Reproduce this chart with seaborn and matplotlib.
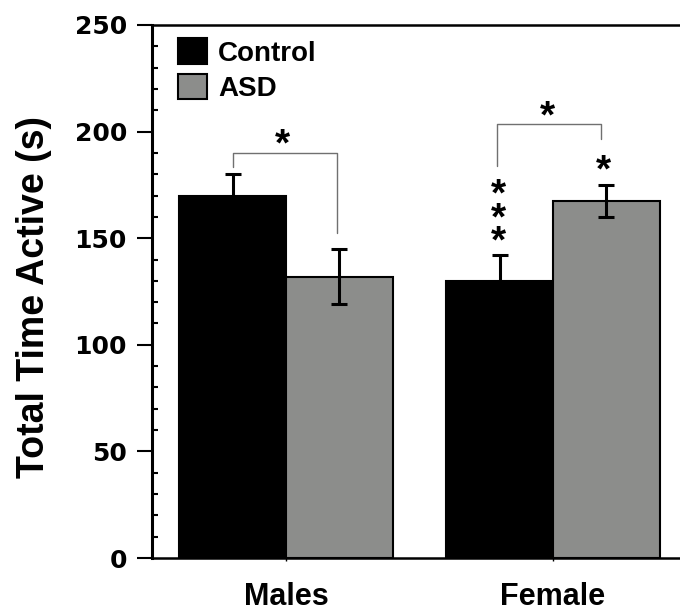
import pandas as pd
import seaborn as sns
from matplotlib import pyplot as plt
from matplotlib.ticker import MultipleLocator

# Data
groups = ['Males', 'Female']
conditions = ['Control', 'ASD']
mean_control = [170, 130]
mean_asd = [132, 167.5]
sem_control = [10, 12]
sem_asd = [13, 7.5]

df = pd.DataFrame({
    'group': groups * 2,
    'condition': [conditions[0]] * 2 + [conditions[1]] * 2,
    'value': mean_control + mean_asd,
    'err': sem_control + sem_asd,
})

sns.set_style('ticks')
plt.rcParams['font.family'] = ['Liberation Sans', 'DejaVu Sans']
plt.rcParams['font.weight'] = 'bold'
for k in ['text.color', 'axes.labelcolor', 'xtick.color', 'ytick.color', 'axes.edgecolor']:
    plt.rcParams[k] = 'black'

fig = plt.figure(figsize=(6.8, 6.11), dpi=100)
ax = fig.add_axes([0.2235, 0.0867, 0.7765, 0.8724])

sns.barplot(data=df, x='group', y='value', hue='condition', order=groups,
            hue_order=conditions, palette=['#000000', '#8c8d8b'], width=0.8,
            edgecolor='black', linewidth=1.5, errorbar=None, ax=ax)

# error bars (mean +/- sem), drawn on top of each bar
for cont, errs in zip(ax.containers, [sem_control, sem_asd]):
    for bar, e in zip(cont, errs):
        xc = bar.get_x() + bar.get_width() / 2
        ax.errorbar(xc, bar.get_height(), yerr=e, fmt='none', ecolor='black',
                    elinewidth=2.2, capsize=6, capthick=2.2, zorder=3)

# significance brackets
bc = '#707070'
ax.plot([-0.2, -0.2, 0.19, 0.19], [183.5, 190, 190, 152.5], color=bc, lw=1)
ax.plot([0.79, 0.79, 1.18, 1.18], [184, 203.5, 203.5, 196.5], color=bc, lw=1)
star_kw = dict(ha='center', va='center', fontsize=28, fontweight='bold')
ax.text(-0.015, 193.5, '*', **star_kw)
ax.text(0.98, 206.5, '*', **star_kw)
ax.text(0.795, 159, '*\n*\n*', linespacing=0.54, **star_kw)
ax.text(1.19, 181.5, '*', **star_kw)

ax.set_xlim(-0.502, 1.476)
ax.set_ylim(0, 250)
ax.yaxis.set_major_locator(MultipleLocator(50))
ax.yaxis.set_minor_locator(MultipleLocator(10))
ax.tick_params(axis='y', which='major', direction='out', length=11, width=1.5,
               labelsize=18, pad=7)
ax.tick_params(axis='y', which='minor', direction='in', length=4.5, width=1.5)
ax.tick_params(axis='x', which='major', direction='out', length=2, width=1,
               labelsize=22, pad=15.5)
for lab in ax.get_yticklabels():
    lab.set_fontweight('bold')
    lab.set_family('DejaVu Sans')
for lab in ax.get_xticklabels():
    lab.set_fontweight('bold')

for side in ['left', 'bottom', 'top']:
    ax.spines[side].set_linewidth(1.8)
ax.spines['left'].set_linewidth(2.2)
ax.spines['right'].set_visible(False)

ax.set_xlabel('')
ax.set_ylabel('Total Time Active (s)', fontsize=27, fontweight='bold')
ax.yaxis.set_label_coords(-0.19, 0.49)

sns.move_legend(ax, 'upper left', bbox_to_anchor=(0.049, 0.975), frameon=False,
                title=None, fontsize=20, handlelength=1.05, handleheight=1.05,
                handletextpad=0.4, labelspacing=0.25, borderpad=0,
                borderaxespad=0)
for t in ax.get_legend().get_texts():
    t.set_fontweight('bold')

fig.savefig('out.png', dpi=100)
plt.close()
